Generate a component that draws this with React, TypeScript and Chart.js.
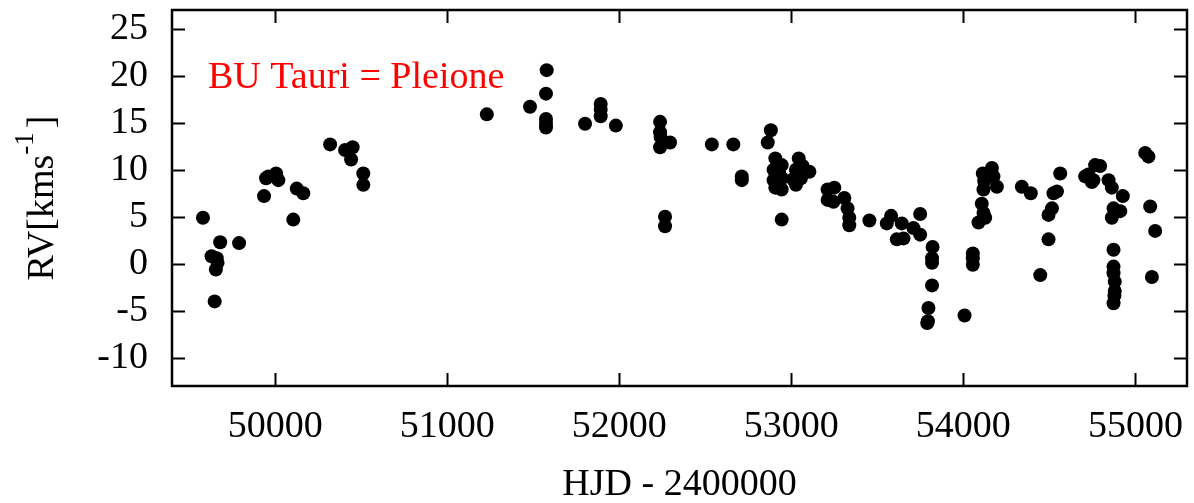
import React, { useEffect, useRef } from "react";
import { Chart, registerables } from "chart.js";

Chart.register(...registerables);

const hjd: number[] = [
  49580, 49680, 49630, 49660, 49665, 49655, 49648, 49790, 49935, 49947,
  49960, 50005, 50018, 50105, 50125, 50163, 50319, 50406, 50450, 50441,
  50512, 50512, 51230, 51481, 51578, 51574, 51574, 51574, 51574, 51801,
  51892, 51892, 51892, 51980, 52237, 52237, 52240, 52237, 52295, 52266,
  52266, 52538, 52663, 52712, 52712, 52881, 52863, 52907, 52897, 52897,
  52907, 52944, 52944, 52944, 52930, 52910, 53043, 53027, 53027, 53066,
  53105, 53056, 53010, 52944, 53211, 53250, 53211, 53245, 53308, 53327,
  53337, 53337, 53454, 53580, 53555, 53613, 53642, 53652, 53710, 53749,
  53749, 53821, 53818, 53818, 53818, 53797, 53794, 53790, 54007, 54055,
  54055, 54055, 54088, 54117, 54107, 54127, 54117, 54121, 54113, 54166,
  54175, 54195, 54340, 54392, 54447, 54495, 54495, 54515, 54524, 54544,
  54563, 54708, 54727, 54747, 54766, 54795, 54756, 54844, 54863, 54927,
  54873, 54912, 54863, 54873, 54873, 54873, 54880, 54880, 54878, 54873,
  55057, 55076, 55086, 55115, 55096,
];

const rv: number[] = [
  4.9, 2.3, 0.8, 0.6, 0.1, -0.6, -4.0, 2.2, 7.2, 9.1,
  9.3, 9.6, 8.9, 4.7, 8.0, 7.5, 12.7, 12.1, 12.4, 11.1,
  9.6, 8.4, 15.9, 16.7, 20.6, 18.1, 15.4, 14.9, 14.5, 14.9,
  17.0, 16.4, 15.7, 14.7, 15.1, 14.0, 13.5, 12.4, 12.9, 5.0,
  4.0, 12.7, 12.7, 9.3, 8.9, 14.2, 12.9, 11.2, 10.0, 8.9,
  8.1, 10.5, 9.1, 7.9, 9.6, 9.6, 11.2, 10.0, 8.4, 10.4,
  9.8, 9.1, 9.0, 4.7, 7.9, 8.1, 6.8, 6.6, 7.0, 5.9,
  4.9, 4.1, 4.6, 5.1, 4.3, 2.6, 4.3, 2.7, 3.8, 5.3,
  3.1, 1.8, 0.6, 0.1, -2.3, -4.7, -6.1, -6.3, -5.5, 1.1,
  0.6, -0.1, 4.4, 5.4, 6.4, 4.9, 7.9, 8.8, 9.6, 10.2,
  9.3, 8.2, 8.2, 7.5, -1.2, 2.6, 5.2, 5.9, 7.5, 7.7,
  9.6, 9.3, 9.5, 8.7, 10.5, 10.4, 8.9, 8.9, 8.1, 7.2,
  5.9, 5.6, 4.9, 1.5, -0.3, -1.0, -1.9, -2.9, -3.4, -4.2,
  11.8, 11.4, 6.1, 3.5, -1.4,
];

const xTicks: number[] = [50000, 51000, 52000, 53000, 54000, 55000];
const yTicks: number[] = [-10, -5, 0, 5, 10, 15, 20, 25];
const xRange: number[] = [49400, 55300];
const yRange: number[] = [-13, 27];

const xTitle = "HJD - 2400000";
const yTitleMain = "RV[kms";
const yTitleSup = "-1";
const yTitleEnd = "]";
const labelText = "BU Tauri = Pleione";

const FONT = "'Liberation Serif', 'Times New Roman', serif";

const framePlugin = {
  id: "framePlugin",
  afterDraw(chart: any) {
    const { ctx, chartArea } = chart;
    const { left, right, top, bottom } = chartArea;
    const xs = chart.scales.x;
    const ys = chart.scales.y;
    const tl = 13;
    ctx.save();
    ctx.strokeStyle = "#000";
    ctx.lineWidth = 2;
    ctx.beginPath();
    for (const v of xTicks) {
      const px = Math.round(xs.getPixelForValue(v)) + 0.5;
      ctx.moveTo(px, bottom);
      ctx.lineTo(px, bottom - tl);
      ctx.moveTo(px, top);
      ctx.lineTo(px, top + tl);
    }
    for (const v of yTicks) {
      const py = Math.round(ys.getPixelForValue(v)) + 0.5;
      ctx.moveTo(left, py);
      ctx.lineTo(left + tl, py);
      ctx.moveTo(right, py);
      ctx.lineTo(right - tl, py);
    }
    ctx.stroke();
    ctx.lineWidth = 2.5;
    ctx.strokeRect(left, top, right - left, bottom - top);

    // x title
    ctx.fillStyle = "#000";
    ctx.font = `38px ${FONT}`;
    ctx.textAlign = "center";
    ctx.textBaseline = "alphabetic";
    ctx.fillText(xTitle, (left + right) / 2, 495);

    // y title with superscript
    ctx.save();
    ctx.translate(53, (top + bottom) / 2);
    ctx.rotate(-Math.PI / 2);
    ctx.textAlign = "left";
    ctx.font = `38px ${FONT}`;
    const w1 = ctx.measureText(yTitleMain).width;
    const w3 = ctx.measureText(yTitleEnd).width;
    ctx.font = `27px ${FONT}`;
    const w2 = ctx.measureText(yTitleSup).width;
    const gap = 4;
    const total = w1 + w2 + w3 + gap;
    let x0 = -total / 2;
    ctx.font = `38px ${FONT}`;
    ctx.fillText(yTitleMain, x0, 0);
    x0 += w1;
    ctx.font = `27px ${FONT}`;
    ctx.fillText(yTitleSup, x0, -20);
    x0 += w2 + gap;
    ctx.font = `38px ${FONT}`;
    ctx.fillText(yTitleEnd, x0, 0);
    ctx.restore();

    // annotation
    ctx.fillStyle = "#ff0000";
    ctx.font = `38px ${FONT}`;
    ctx.textAlign = "left";
    ctx.fillText(labelText, 208, 88);
    ctx.restore();
  },
};

export default function App() {
  const ref = useRef<HTMLCanvasElement | null>(null);
  useEffect(() => {
    document.body.style.margin = "0";
    const canvas = ref.current;
    if (!canvas) return;
    const points = hjd.map((x, i) => ({ x, y: rv[i] }));
    const chart = new Chart(canvas, {
      type: "scatter",
      data: {
        datasets: [
          {
            data: points,
            backgroundColor: "#000",
            borderColor: "#000",
            pointRadius: 7,
            pointBorderWidth: 0,
          },
        ],
      },
      options: {
        animation: false,
        responsive: false,
        devicePixelRatio: 1,
        layout: { padding: { left: 0, top: 10, right: 7, bottom: 0 } },
        plugins: {
          legend: { display: false },
          tooltip: { enabled: false },
        },
        scales: {
          x: {
            type: "linear",
            min: xRange[0],
            max: xRange[1],
            afterBuildTicks: (s: any) => {
              s.ticks = xTicks.map((v) => ({ value: v }));
            },
            afterFit: (s: any) => {
              s.height = 117;
              s.paddingLeft = 0;
              s.paddingRight = 0;
              s.paddingTop = 0;
              s.paddingBottom = 0;
            },
            grid: { display: false, drawTicks: false },
            border: { display: false },
            ticks: {
              padding: 18,
              color: "#000",
              font: { family: FONT, size: 38 },
              maxRotation: 0,
              autoSkip: false,
              callback: (v: any) => String(v),
            },
          },
          y: {
            type: "linear",
            min: yRange[0],
            max: yRange[1],
            afterBuildTicks: (s: any) => {
              s.ticks = yTicks.map((v) => ({ value: v }));
            },
            afterFit: (s: any) => {
              s.width = 172;
              s.paddingLeft = 0;
              s.paddingRight = 0;
              s.paddingTop = 0;
              s.paddingBottom = 0;
            },
            grid: { display: false, drawTicks: false },
            border: { display: false },
            ticks: {
              padding: 24,
              color: "#000",
              font: { family: FONT, size: 38 },
              autoSkip: false,
              callback: (v: any) => String(v),
            },
          },
        },
      },
      plugins: [framePlugin],
    });
    return () => chart.destroy();
  }, []);
  return (
    <div style={{ width: 1194, height: 503 }}>
      <canvas ref={ref} width={1194} height={503} style={{ display: "block", width: 1194, height: 503 }} />
    </div>
  );
}
